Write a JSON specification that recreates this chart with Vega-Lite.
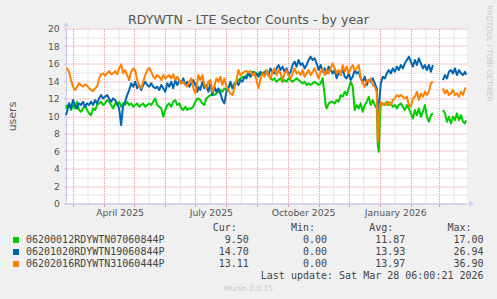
{
"$schema": "https://vega.github.io/schema/vega-lite/v6.json",
"usermeta": {"embedOptions": {"actions": false}},
"width": 401, "height": 175,
"autosize": "none",
"padding": {"left": 66, "top": 28.5, "right": 30, "bottom": 95.5},
"config": {"background": "#F0F0F0", "view": {"fill": "white", "stroke": null}, "font": "DejaVu Sans"},
"title": {"text": "RDYWTN - LTE Sector Counts - by year", "font": "DejaVu Sans", "fontSize": 12.6, "fontWeight": "normal", "color": "#555555", "anchor": "middle", "dx": -18, "dy": 26, "offset": 4},
"datasets": {
"s": [
{"d":"2025-02-22","g":11.25,"b":10.10,"o":15.44,"p":1},
{"d":"2025-02-23","g":10.87,"b":10.49,"o":15.44,"p":1},
{"d":"2025-02-25","g":11.44,"b":11.44,"o":15.06,"p":1},
{"d":"2025-02-27","g":10.68,"b":10.87,"o":14.11,"p":1},
{"d":"2025-03-01","g":11.25,"b":11.82,"o":13.35,"p":1},
{"d":"2025-03-03","g":10.87,"b":11.25,"o":12.97,"p":1},
{"d":"2025-03-05","g":11.63,"b":10.87,"o":13.35,"p":1},
{"d":"2025-03-07","g":10.68,"b":11.44,"o":13.73,"p":1},
{"d":"2025-03-09","g":10.49,"b":11.25,"o":13.54,"p":1},
{"d":"2025-03-11","g":10.87,"b":11.63,"o":13.35,"p":1},
{"d":"2025-03-13","g":11.25,"b":11.06,"o":13.61,"p":1},
{"d":"2025-03-15","g":10.68,"b":11.44,"o":13.46,"p":1},
{"d":"2025-03-17","g":10.30,"b":11.25,"o":13.16,"p":1},
{"d":"2025-03-19","g":10.10,"b":11.63,"o":12.97,"p":1},
{"d":"2025-03-21","g":10.87,"b":11.25,"o":12.85,"p":1},
{"d":"2025-03-23","g":10.68,"b":11.82,"o":13.16,"p":1},
{"d":"2025-03-25","g":11.25,"b":11.44,"o":13.35,"p":1},
{"d":"2025-03-27","g":11.44,"b":12.01,"o":14.30,"p":1},
{"d":"2025-03-29","g":11.63,"b":12.39,"o":14.76,"p":1},
{"d":"2025-03-31","g":11.25,"b":12.01,"o":14.87,"p":1},
{"d":"2025-04-02","g":11.44,"b":12.20,"o":14.60,"p":1},
{"d":"2025-04-04","g":11.82,"b":12.39,"o":14.87,"p":1},
{"d":"2025-04-06","g":11.63,"b":12.01,"o":15.14,"p":1},
{"d":"2025-04-08","g":11.25,"b":11.63,"o":14.76,"p":1},
{"d":"2025-04-10","g":10.87,"b":12.01,"o":14.87,"p":1},
{"d":"2025-04-12","g":11.44,"b":11.82,"o":15.14,"p":1},
{"d":"2025-04-14","g":11.25,"b":11.44,"o":14.76,"p":1},
{"d":"2025-04-16","g":11.63,"b":10.87,"o":15.44,"p":1},
{"d":"2025-04-18","g":11.06,"b":8.96,"o":15.90,"p":1},
{"d":"2025-04-20","g":11.44,"b":11.25,"o":14.87,"p":1},
{"d":"2025-04-22","g":11.25,"b":11.63,"o":15.25,"p":1},
{"d":"2025-04-24","g":11.63,"b":12.39,"o":14.68,"p":1},
{"d":"2025-04-26","g":11.25,"b":12.97,"o":14.11,"p":1},
{"d":"2025-04-28","g":11.44,"b":13.73,"o":15.06,"p":1},
{"d":"2025-04-30","g":11.06,"b":13.35,"o":15.44,"p":1},
{"d":"2025-05-02","g":11.25,"b":13.92,"o":15.25,"p":1},
{"d":"2025-05-04","g":11.44,"b":13.16,"o":14.11,"p":1},
{"d":"2025-05-06","g":11.06,"b":13.54,"o":13.35,"p":1},
{"d":"2025-05-08","g":11.25,"b":12.97,"o":13.16,"p":1},
{"d":"2025-05-10","g":11.44,"b":13.54,"o":13.92,"p":1},
{"d":"2025-05-12","g":11.06,"b":13.92,"o":14.68,"p":1},
{"d":"2025-05-14","g":11.25,"b":13.54,"o":15.25,"p":1},
{"d":"2025-05-16","g":11.44,"b":13.35,"o":15.52,"p":1},
{"d":"2025-05-18","g":11.25,"b":13.73,"o":15.06,"p":1},
{"d":"2025-05-20","g":11.63,"b":13.35,"o":14.49,"p":1},
{"d":"2025-05-22","g":12.01,"b":13.16,"o":14.30,"p":1},
{"d":"2025-05-24","g":11.25,"b":13.35,"o":14.68,"p":1},
{"d":"2025-05-26","g":11.06,"b":12.97,"o":14.49,"p":1},
{"d":"2025-05-28","g":10.87,"b":13.54,"o":14.11,"p":1},
{"d":"2025-05-30","g":9.91,"b":13.16,"o":14.68,"p":1},
{"d":"2025-06-01","g":10.68,"b":12.77,"o":14.30,"p":1},
{"d":"2025-06-03","g":11.25,"b":13.73,"o":14.49,"p":1},
{"d":"2025-06-05","g":11.44,"b":13.35,"o":14.68,"p":1},
{"d":"2025-06-07","g":11.06,"b":13.92,"o":14.30,"p":1},
{"d":"2025-06-09","g":11.63,"b":13.16,"o":14.76,"p":1},
{"d":"2025-06-11","g":11.82,"b":14.11,"o":14.11,"p":1},
{"d":"2025-06-13","g":11.25,"b":13.54,"o":14.49,"p":1},
{"d":"2025-06-15","g":11.44,"b":14.11,"o":14.11,"p":1},
{"d":"2025-06-17","g":10.87,"b":13.73,"o":13.73,"p":1},
{"d":"2025-06-19","g":10.68,"b":14.30,"o":13.92,"p":1},
{"d":"2025-06-21","g":11.06,"b":13.54,"o":13.54,"p":1},
{"d":"2025-06-23","g":10.68,"b":13.92,"o":13.35,"p":1},
{"d":"2025-06-25","g":10.87,"b":13.35,"o":13.92,"p":1},
{"d":"2025-06-27","g":10.87,"b":13.73,"o":14.30,"p":1},
{"d":"2025-06-29","g":11.06,"b":14.11,"o":13.16,"p":1},
{"d":"2025-07-01","g":11.63,"b":13.54,"o":12.58,"p":1},
{"d":"2025-07-03","g":12.01,"b":12.77,"o":13.92,"p":1},
{"d":"2025-07-04","g":12.01,"b":13.35,"o":14.68,"p":1},
{"d":"2025-07-06","g":11.82,"b":12.97,"o":14.11,"p":1},
{"d":"2025-07-08","g":11.44,"b":13.92,"o":14.68,"p":1},
{"d":"2025-07-10","g":11.25,"b":13.16,"o":13.54,"p":1},
{"d":"2025-07-12","g":12.01,"b":13.54,"o":13.16,"p":1},
{"d":"2025-07-14","g":12.20,"b":12.77,"o":13.92,"p":1},
{"d":"2025-07-16","g":12.39,"b":13.73,"o":14.11,"p":1},
{"d":"2025-07-18","g":12.47,"b":12.39,"o":12.77,"p":1},
{"d":"2025-07-20","g":12.39,"b":13.35,"o":13.35,"p":1},
{"d":"2025-07-22","g":12.58,"b":12.77,"o":14.30,"p":1},
{"d":"2025-07-24","g":12.77,"b":13.16,"o":13.92,"p":1},
{"d":"2025-07-26","g":12.97,"b":12.58,"o":14.49,"p":1},
{"d":"2025-07-28","g":12.77,"b":11.82,"o":13.54,"p":1},
{"d":"2025-07-30","g":13.16,"b":11.44,"o":14.30,"p":1},
{"d":"2025-08-01","g":12.97,"b":12.77,"o":13.35,"p":1},
{"d":"2025-08-03","g":13.35,"b":13.16,"o":12.97,"p":1},
{"d":"2025-08-05","g":13.54,"b":13.92,"o":12.58,"p":1},
{"d":"2025-08-07","g":13.35,"b":13.16,"o":12.39,"p":1},
{"d":"2025-08-09","g":13.73,"b":13.35,"o":13.16,"p":1},
{"d":"2025-08-11","g":13.92,"b":13.92,"o":14.11,"p":1},
{"d":"2025-08-13","g":14.11,"b":13.54,"o":15.25,"p":1},
{"d":"2025-08-15","g":14.30,"b":14.11,"o":14.68,"p":1},
{"d":"2025-08-17","g":14.49,"b":13.92,"o":14.87,"p":1},
{"d":"2025-08-19","g":14.30,"b":14.49,"o":15.06,"p":1},
{"d":"2025-08-21","g":14.68,"b":14.30,"o":15.14,"p":1},
{"d":"2025-08-23","g":14.87,"b":14.87,"o":14.99,"p":1},
{"d":"2025-08-25","g":14.49,"b":14.49,"o":15.14,"p":1},
{"d":"2025-08-27","g":14.87,"b":15.06,"o":14.68,"p":1},
{"d":"2025-08-29","g":15.06,"b":14.68,"o":14.87,"p":1},
{"d":"2025-08-31","g":14.68,"b":14.87,"o":14.11,"p":1},
{"d":"2025-09-02","g":14.87,"b":14.49,"o":13.16,"p":1},
{"d":"2025-09-04","g":14.68,"b":15.06,"o":14.30,"p":1},
{"d":"2025-09-06","g":14.87,"b":14.68,"o":14.87,"p":1},
{"d":"2025-09-08","g":15.06,"b":14.87,"o":14.49,"p":1},
{"d":"2025-09-10","g":14.87,"b":15.25,"o":15.25,"p":1},
{"d":"2025-09-12","g":14.68,"b":14.68,"o":14.68,"p":1},
{"d":"2025-09-14","g":14.30,"b":15.44,"o":14.30,"p":1},
{"d":"2025-09-16","g":14.11,"b":15.06,"o":15.06,"p":1},
{"d":"2025-09-18","g":14.30,"b":14.87,"o":15.44,"p":1},
{"d":"2025-09-20","g":13.92,"b":15.44,"o":14.68,"p":1},
{"d":"2025-09-22","g":14.11,"b":15.83,"o":15.25,"p":1},
{"d":"2025-09-24","g":14.30,"b":15.25,"o":14.87,"p":1},
{"d":"2025-09-26","g":13.92,"b":15.64,"o":14.11,"p":1},
{"d":"2025-09-28","g":14.11,"b":15.06,"o":14.87,"p":1},
{"d":"2025-09-30","g":13.92,"b":15.44,"o":15.25,"p":1},
{"d":"2025-10-02","g":14.30,"b":14.68,"o":14.68,"p":1},
{"d":"2025-10-04","g":14.11,"b":15.06,"o":14.30,"p":1},
{"d":"2025-10-06","g":13.92,"b":15.83,"o":14.87,"p":1},
{"d":"2025-10-08","g":14.11,"b":16.21,"o":15.44,"p":1},
{"d":"2025-10-10","g":14.30,"b":15.64,"o":14.87,"p":1},
{"d":"2025-10-12","g":14.11,"b":16.40,"o":15.06,"p":1},
{"d":"2025-10-14","g":13.92,"b":15.83,"o":14.68,"p":1},
{"d":"2025-10-16","g":13.73,"b":16.02,"o":15.25,"p":1},
{"d":"2025-10-18","g":13.92,"b":15.44,"o":14.49,"p":1},
{"d":"2025-10-20","g":13.54,"b":15.83,"o":14.87,"p":1},
{"d":"2025-10-22","g":13.73,"b":16.40,"o":15.25,"p":1},
{"d":"2025-10-24","g":13.54,"b":16.78,"o":14.68,"p":1},
{"d":"2025-10-26","g":13.73,"b":16.40,"o":15.06,"p":1},
{"d":"2025-10-28","g":13.92,"b":16.59,"o":15.44,"p":1},
{"d":"2025-10-30","g":13.73,"b":16.02,"o":14.87,"p":1},
{"d":"2025-11-01","g":13.54,"b":15.25,"o":14.30,"p":1},
{"d":"2025-11-03","g":13.73,"b":15.83,"o":15.06,"p":1},
{"d":"2025-11-05","g":14.30,"b":15.06,"o":15.44,"p":1},
{"d":"2025-11-07","g":12.39,"b":15.44,"o":14.68,"p":1},
{"d":"2025-11-08","g":11.25,"b":15.14,"o":14.87,"p":1},
{"d":"2025-11-09","g":10.87,"b":14.87,"o":15.25,"p":1},
{"d":"2025-11-11","g":11.44,"b":15.64,"o":14.87,"p":1},
{"d":"2025-11-13","g":11.63,"b":15.25,"o":15.44,"p":1},
{"d":"2025-11-15","g":11.63,"b":14.87,"o":16.02,"p":1},
{"d":"2025-11-17","g":11.44,"b":15.25,"o":15.44,"p":1},
{"d":"2025-11-19","g":11.82,"b":14.30,"o":14.87,"p":1},
{"d":"2025-11-21","g":11.63,"b":15.06,"o":15.25,"p":1},
{"d":"2025-11-23","g":12.39,"b":14.68,"o":14.68,"p":1},
{"d":"2025-11-25","g":12.20,"b":15.44,"o":15.83,"p":1},
{"d":"2025-11-27","g":12.77,"b":14.49,"o":15.06,"p":1},
{"d":"2025-11-29","g":12.39,"b":14.30,"o":15.64,"p":1},
{"d":"2025-12-01","g":13.16,"b":14.87,"o":14.87,"p":1},
{"d":"2025-12-03","g":13.92,"b":14.11,"o":15.44,"p":1},
{"d":"2025-12-05","g":13.35,"b":14.49,"o":15.83,"p":1},
{"d":"2025-12-07","g":10.68,"b":15.25,"o":15.25,"p":1},
{"d":"2025-12-09","g":11.25,"b":14.87,"o":15.44,"p":1},
{"d":"2025-12-11","g":10.87,"b":15.06,"o":15.83,"p":1},
{"d":"2025-12-13","g":11.44,"b":14.30,"o":14.30,"p":1},
{"d":"2025-12-15","g":10.49,"b":13.92,"o":13.73,"p":1},
{"d":"2025-12-17","g":11.25,"b":14.49,"o":13.35,"p":1},
{"d":"2025-12-19","g":11.63,"b":13.54,"o":14.11,"p":1},
{"d":"2025-12-21","g":12.20,"b":14.11,"o":13.92,"p":1},
{"d":"2025-12-23","g":11.25,"b":13.92,"o":14.30,"p":1},
{"d":"2025-12-25","g":11.82,"b":14.30,"o":13.54,"p":1},
{"d":"2025-12-27","g":11.25,"b":13.73,"o":13.35,"p":1},
{"d":"2025-12-29","g":10.87,"b":13.16,"o":12.77,"p":1},
{"d":"2025-12-30","g":6.67,"b":9.72,"o":7.05,"p":1},
{"d":"2025-12-31","g":5.91,"b":10.87,"o":9.34,"p":1},
{"d":"2026-01-01","g":9.34,"b":12.39,"o":11.25,"p":1},
{"d":"2026-01-02","g":11.25,"b":13.73,"o":11.63,"p":1},
{"d":"2026-01-04","g":11.44,"b":14.49,"o":11.25,"p":1},
{"d":"2026-01-06","g":11.25,"b":14.30,"o":11.44,"p":1},
{"d":"2026-01-08","g":11.63,"b":14.87,"o":11.25,"p":1},
{"d":"2026-01-10","g":11.25,"b":15.25,"o":11.63,"p":1},
{"d":"2026-01-12","g":11.44,"b":14.87,"o":11.25,"p":1},
{"d":"2026-01-14","g":11.06,"b":15.44,"o":11.82,"p":1},
{"d":"2026-01-16","g":11.25,"b":15.06,"o":12.01,"p":1},
{"d":"2026-01-18","g":10.87,"b":15.64,"o":12.39,"p":1},
{"d":"2026-01-20","g":11.25,"b":15.25,"o":12.20,"p":1},
{"d":"2026-01-22","g":11.44,"b":15.83,"o":12.39,"p":1},
{"d":"2026-01-24","g":11.06,"b":15.44,"o":12.20,"p":1},
{"d":"2026-01-26","g":10.68,"b":16.02,"o":12.01,"p":1},
{"d":"2026-01-28","g":11.25,"b":16.40,"o":12.20,"p":1},
{"d":"2026-01-30","g":10.87,"b":16.78,"o":11.25,"p":1},
{"d":"2026-02-01","g":10.30,"b":16.21,"o":11.06,"p":1},
{"d":"2026-02-03","g":9.72,"b":15.64,"o":12.01,"p":1},
{"d":"2026-02-05","g":10.68,"b":16.40,"o":12.20,"p":1},
{"d":"2026-02-07","g":10.10,"b":15.83,"o":12.77,"p":1},
{"d":"2026-02-09","g":10.87,"b":16.59,"o":11.82,"p":1},
{"d":"2026-02-11","g":9.91,"b":16.02,"o":12.58,"p":1},
{"d":"2026-02-13","g":10.49,"b":15.44,"o":12.20,"p":1},
{"d":"2026-02-15","g":11.25,"b":15.83,"o":12.77,"p":1},
{"d":"2026-02-17","g":9.91,"b":15.25,"o":12.39,"p":1},
{"d":"2026-02-19","g":9.34,"b":15.83,"o":12.77,"p":1},
{"d":"2026-02-21","g":10.10,"b":15.06,"o":13.73,"p":1},
{"d":"2026-02-23","g":10.30,"b":15.83,"o":13.92,"p":1},
{"d":"2026-03-05","g":10.68,"b":14.11,"o":13.16,"p":2},
{"d":"2026-03-07","g":10.30,"b":14.68,"o":12.58,"p":2},
{"d":"2026-03-09","g":9.34,"b":14.30,"o":12.97,"p":2},
{"d":"2026-03-11","g":9.91,"b":15.06,"o":12.39,"p":2},
{"d":"2026-03-13","g":9.15,"b":15.25,"o":12.58,"p":2},
{"d":"2026-03-15","g":9.91,"b":14.87,"o":12.97,"p":2},
{"d":"2026-03-17","g":9.53,"b":15.44,"o":12.39,"p":2},
{"d":"2026-03-19","g":10.30,"b":14.68,"o":12.58,"p":2},
{"d":"2026-03-21","g":9.53,"b":15.25,"o":12.20,"p":2},
{"d":"2026-03-23","g":10.10,"b":14.87,"o":12.77,"p":2},
{"d":"2026-03-25","g":9.34,"b":14.68,"o":12.39,"p":2},
{"d":"2026-03-27","g":9.15,"b":15.06,"o":13.16,"p":2},
{"d":"2026-03-28","g":9.50,"b":14.70,"o":13.11,"p":2}
],
"mid": [
{"d":"2025-03-16"},{"d":"2025-04-16"},{"d":"2025-05-16"},{"d":"2025-06-16"},{"d":"2025-07-16"},{"d":"2025-08-16"},{"d":"2025-09-16"},{"d":"2025-10-16"},{"d":"2025-11-16"},{"d":"2025-12-16"},{"d":"2026-01-16"},{"d":"2026-02-16"},{"d":"2026-03-16"}
],
"up": [{"d":"2025-02-22","v":20.49}],
"right": [{"d":"2026-04-02T12:00:00Z","v":0}]
},
"resolve": {"axis": {"y": "independent"}},
"encoding": {
"x": {"field": "d", "type": "temporal",
 "scale": {"type": "utc", "domain": [{"year": 2025, "month": 2, "date": 22, "utc": true}, {"year": 2026, "month": 3, "date": 29, "utc": true}], "nice": false},
 "axis": {
  "values": [
   {"year":2025,"month":3,"date":1,"utc":true},
   {"year":2025,"month":4,"date":1,"utc":true},
   {"year":2025,"month":5,"date":1,"utc":true},
   {"year":2025,"month":6,"date":1,"utc":true},
   {"year":2025,"month":7,"date":1,"utc":true},
   {"year":2025,"month":8,"date":1,"utc":true},
   {"year":2025,"month":9,"date":1,"utc":true},
   {"year":2025,"month":10,"date":1,"utc":true},
   {"year":2025,"month":11,"date":1,"utc":true},
   {"year":2025,"month":12,"date":1,"utc":true},
   {"year":2026,"month":1,"date":1,"utc":true},
   {"year":2026,"month":2,"date":1,"utc":true},
   {"year":2026,"month":3,"date":1,"utc":true}
  ],
  "labelExpr": "utcmonth(datum.value) % 3 == 0 ? utcFormat(datum.value, '%B %Y') : ''",
  "labelOverlap": false, "labelFont": "DejaVu Sans", "labelFontSize": 9.3, "labelColor": "#555555", "labelBaseline": "top", "labelAlign": "center", "labelPadding": 1.5, "labelFlush": false, "labelBound": false, "labelOffset": 15.5,
  "tickSize": 3, "tickColor": "#E49494",
  "grid": true, "gridColor": "#E49494", "gridDash": [1,1], "gridWidth": 1,
  "domainColor": "#C8CCF4",
  "title": "Munin 2.0.75", "titleFont": "DejaVu Sans", "titleFontSize": 7.5, "titleFontWeight": "normal", "titleColor": "#C8C8C8", "titleX": 182, "titleY": 84.8, "titleAlign": "center", "titleBaseline": "middle", "titleAngle": 0
 }}
},
"layer": [
{
"data": {"name": "mid"},
"mark": {"type": "rule", "color": "#CCCCCC", "strokeDash": [1,1], "strokeWidth": 1},
"encoding": {}
},
{
"data": {"name": "s"},
"transform": [{"fold": ["g","b","o"], "as": ["k","v"]}],
"mark": {"type": "line", "strokeWidth": 2, "clip": false, "strokeJoin": "round"},
"encoding": {
"y": {"field": "v", "type": "quantitative",
 "scale": {"domain": [0, 20], "nice": false, "zero": true},
 "axis": {
  "orient": "left",
  "values": [0,1,2,3,4,5,6,7,8,9,10,11,12,13,14,15,16,17,18,19,20],
  "labelExpr": "datum.value % 2 == 0 ? datum.label : ''",
  "labelFont": "DejaVu Sans", "labelFontSize": 9.3, "labelColor": "#555555", "labelPadding": 4.7,
  "tickSize": 2, "tickColor": {"condition": {"test": "datum.value % 2 == 0", "value": "#E49494"}, "value": "#CCCCCC"},
  "grid": true, "gridColor": {"condition": {"test": "datum.value % 2 == 0", "value": "#E49494"}, "value": "#CCCCCC"}, "gridDash": [1,1], "gridWidth": 1,
  "domainColor": "#C8CCF4",
  "title": "users", "titleFont": "DejaVu Sans", "titleFontSize": 11, "titleFontWeight": "normal", "titleColor": "#555555", "titleX": -54, "titleY": 87.5, "titleAngle": 270, "titleAlign": "center", "titleBaseline": "middle"
 }},
"color": {"field": "k", "type": "nominal",
 "scale": {"domain": ["h","g","b","o","u"], "range": ["rgba(0,0,0,0)","#00CC00","#0066B3","#FF8000","rgba(0,0,0,0)"]},
 "legend": {
  "orient": "none", "legendX": -55, "legendY": 194.5, "direction": "vertical", "title": null,
  "padding": 0, "offset": 0, "rowPadding": 2,
  "labelFont": "DejaVu Sans Mono", "labelFontSize": 10, "labelColor": "#444444", "labelLimit": 1000, "labelOffset": 5,
  "labelExpr": "datum.value == 'h' ? '\u200b' + pad('Cur:',35,'\u00a0','left') + pad('Min:',13,'\u00a0','left') + pad('Avg:',13,'\u00a0','left') + pad('Max:',13,'\u00a0','left') : datum.value == 'g' ? '06200012RDYWTN07060844P' + pad('9.50',14,'\u00a0','left') + pad('0.00',13,'\u00a0','left') + pad('11.87',13,'\u00a0','left') + pad('17.00',13,'\u00a0','left') : datum.value == 'b' ? '06201020RDYWTN19060844P' + pad('14.70',14,'\u00a0','left') + pad('0.00',13,'\u00a0','left') + pad('13.93',13,'\u00a0','left') + pad('26.94',13,'\u00a0','left') : datum.value == 'o' ? '06202016RDYWTN31060444P' + pad('13.11',14,'\u00a0','left') + pad('0.00',13,'\u00a0','left') + pad('13.97',13,'\u00a0','left') + pad('36.90',13,'\u00a0','left') : '\u200b' + pad('Last update: Sat Mar 28 06:00:21 2026',76,'\u00a0','left')",
  "symbolType": "square", "symbolSize": 36, "symbolStrokeWidth": 0,
  "encode": {"symbols": {"update": {"fill": {"scale": "color", "field": "value"}, "fillOpacity": {"value": 1}, "strokeWidth": {"value": 0}}}}
 }},
"detail": {"field": "p", "type": "nominal"}
}
},
{
"data": {"name": "up"},
"mark": {"type": "point", "shape": "triangle-up", "filled": true, "size": 30, "color": "#C8CCF4", "opacity": 1, "clip": false},
"encoding": {
"y": {"field": "v", "type": "quantitative",
 "axis": {"orient": "right", "labels": false, "ticks": false, "domain": false, "grid": false,
  "title": "RRDTOOL / TOBI OETIKER", "titleFont": "DejaVu Sans", "titleFontSize": 7.5, "titleFontWeight": "normal", "titleColor": "#C8C8C8", "titleAngle": 90, "titleX": 21.5, "titleY": 24.5, "titleAlign": "center", "titleBaseline": "middle"}}
}
},
{
"data": {"name": "right"},
"mark": {"type": "point", "shape": "triangle-right", "filled": true, "size": 30, "color": "#C8CCF4", "opacity": 1, "clip": false},
"encoding": {
"y": {"field": "v", "type": "quantitative", "axis": null}
}
}
]
}
